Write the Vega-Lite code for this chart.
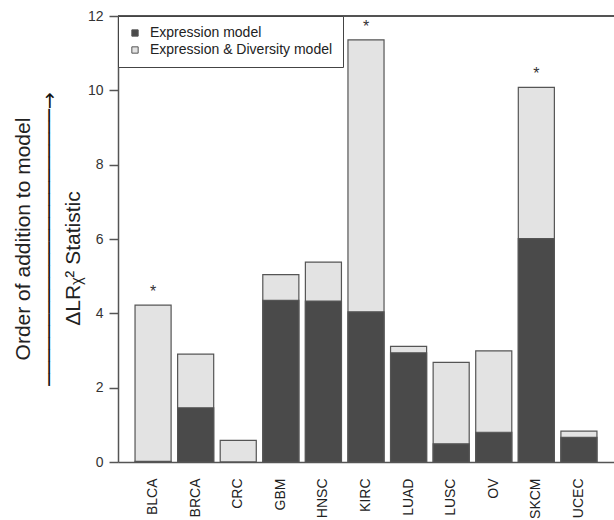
{
  "$schema": "https://vega.github.io/schema/vega-lite/v6.json",
  "width": 496,
  "height": 446,
  "padding": {"left": 12, "top": 9, "right": 0, "bottom": 0},
  "background": "white",
  "config": {"view": {"stroke": null}, "font": "Liberation Sans"},
  "title": {
    "text": "Order of addition to model",
    "subtitle": "───────────────────────→",
    "orient": "left",
    "anchor": "middle",
    "fontSize": 21,
    "fontWeight": "normal",
    "color": "#222",
    "subtitleFont": "DejaVu Sans",
    "subtitleFontSize": 20,
    "subtitleColor": "#111",
    "subtitlePadding": 6,
    "offset": 2
  },
  "data": {
    "values": [
      {"cancer": "BLCA", "model": "Expression model", "value": 0.02, "sig": true},
      {"cancer": "BLCA", "model": "Expression & Diversity model", "value": 4.22, "sig": true},
      {"cancer": "BRCA", "model": "Expression model", "value": 1.46, "sig": false},
      {"cancer": "BRCA", "model": "Expression & Diversity model", "value": 2.90, "sig": false},
      {"cancer": "CRC", "model": "Expression model", "value": 0.0, "sig": false},
      {"cancer": "CRC", "model": "Expression & Diversity model", "value": 0.58, "sig": false},
      {"cancer": "GBM", "model": "Expression model", "value": 4.35, "sig": false},
      {"cancer": "GBM", "model": "Expression & Diversity model", "value": 5.04, "sig": false},
      {"cancer": "HNSC", "model": "Expression model", "value": 4.33, "sig": false},
      {"cancer": "HNSC", "model": "Expression & Diversity model", "value": 5.38, "sig": false},
      {"cancer": "KIRC", "model": "Expression model", "value": 4.04, "sig": true},
      {"cancer": "KIRC", "model": "Expression & Diversity model", "value": 11.36, "sig": true},
      {"cancer": "LUAD", "model": "Expression model", "value": 2.94, "sig": false},
      {"cancer": "LUAD", "model": "Expression & Diversity model", "value": 3.11, "sig": false},
      {"cancer": "LUSC", "model": "Expression model", "value": 0.49, "sig": false},
      {"cancer": "LUSC", "model": "Expression & Diversity model", "value": 2.68, "sig": false},
      {"cancer": "OV", "model": "Expression model", "value": 0.80, "sig": false},
      {"cancer": "OV", "model": "Expression & Diversity model", "value": 2.99, "sig": false},
      {"cancer": "SKCM", "model": "Expression model", "value": 6.01, "sig": true},
      {"cancer": "SKCM", "model": "Expression & Diversity model", "value": 10.08, "sig": true},
      {"cancer": "UCEC", "model": "Expression model", "value": 0.66, "sig": false},
      {"cancer": "UCEC", "model": "Expression & Diversity model", "value": 0.83, "sig": false}
    ]
  },
  "layer": [
    {
      "mark": {"type": "bar", "stroke": "#555", "strokeWidth": 1.2},
      "encoding": {
        "x": {
          "field": "cancer",
          "type": "nominal",
          "sort": null,
          "scale": {"paddingInner": 0.153, "paddingOuter": 0.4},
          "axis": {
            "title": null,
            "ticks": false,
            "labelAngle": -90,
            "labelAlign": "right",
            "labelBaseline": "middle",
            "labelPadding": 16,
            "labelFontSize": 14,
            "labelColor": "#222",
            "domainColor": "#555",
            "domainWidth": 1.5
          }
        },
        "y": {
          "field": "value",
          "type": "quantitative",
          "stack": null,
          "scale": {"domain": [0, 12], "nice": false},
          "axis": {
            "values": [0, 2, 4, 6, 8, 10, 12],
            "grid": false,
            "tickSize": 9,
            "tickColor": "#555",
            "tickWidth": 1.5,
            "domainColor": "#555",
            "domainWidth": 1.5,
            "labelPadding": 6,
            "labelFontSize": 14,
            "labelColor": "#333",
            "title": "ΔLRᵪ² Statistic",
            "titleFontSize": 21,
            "titleFontWeight": "normal",
            "titleColor": "#222",
            "titleX": -35,
            "titleY": 242
          }
        },
        "color": {
          "field": "model",
          "type": "nominal",
          "sort": ["Expression model", "Expression & Diversity model"],
          "scale": {
            "domain": ["Expression model", "Expression & Diversity model"],
            "range": ["#4a4a4a", "#e3e3e3"]
          },
          "legend": {
            "orient": "top-left",
            "offset": 0,
            "title": null,
            "padding": 10,
            "strokeColor": "#444",
            "fillColor": "white",
            "symbolType": "square",
            "symbolSize": 40,
            "symbolStrokeColor": "#555",
            "symbolStrokeWidth": 1,
            "labelFontSize": 14,
            "labelColor": "#222",
            "labelOffset": 8,
            "labelLimit": 400,
            "rowPadding": 3
          }
        },
        "order": {"field": "model", "sort": "ascending"}
      }
    },
    {
      "mark": {"type": "rule", "color": "#555", "strokeWidth": 1.5},
      "encoding": {"y": {"datum": 12}}
    },
    {
      "transform": [{"filter": "datum.sig && datum.model === 'Expression & Diversity model'"}],
      "mark": {"type": "text", "text": "*", "dy": -8, "baseline": "alphabetic", "fontSize": 16, "color": "#333"},
      "encoding": {
        "x": {"field": "cancer", "type": "nominal", "sort": null},
        "y": {"field": "value", "type": "quantitative"}
      }
    }
  ]
}
